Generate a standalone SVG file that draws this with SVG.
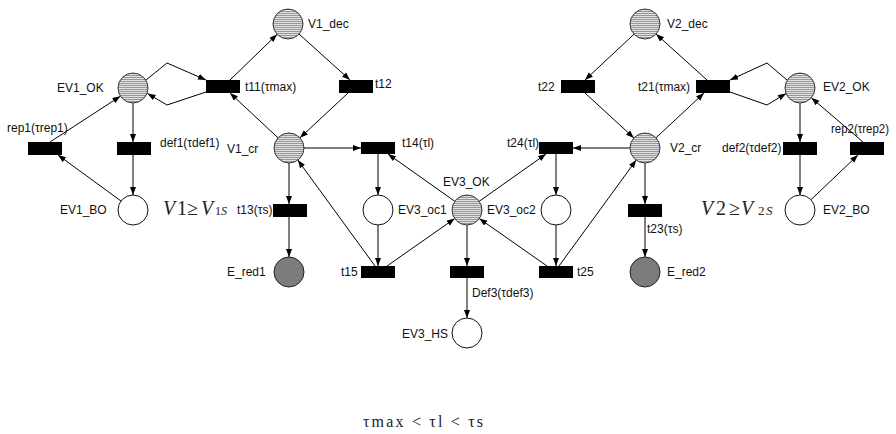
<svg xmlns="http://www.w3.org/2000/svg" width="896" height="434" viewBox="0 0 896 434">
<style>
text{font-family:"Liberation Sans",Arial,sans-serif;font-size:12px;fill:#111}
text.m{font-family:"Liberation Serif","Times New Roman",serif;fill:#222;font-size:20px}
text.b{font-size:16px}
.s{font-size:12px}
.s2{font-size:13px}
.i{font-style:italic}
.p{fill:url(#stripe);stroke:#333;stroke-width:1}
.w{fill:#fff;stroke:#111;stroke-width:1}
.r{fill:#7c7c7c;stroke:#222;stroke-width:1}
.t{fill:#000}
#edges path,#edges polyline{fill:none;stroke:#000;stroke-width:1;marker-end:url(#ah)}
</style>
<defs>
<pattern id="stripe" patternUnits="userSpaceOnUse" width="4" height="2">
<rect width="4" height="2" fill="#e2e2e2"/>
<rect y="1" width="4" height="1" fill="#969696"/>
</pattern>
<marker id="ah" markerUnits="userSpaceOnUse" markerWidth="9" markerHeight="7" refX="8" refY="3" orient="auto">
<path d="M0,0 L8,3 L0,6 z" fill="#000"/>
</marker>
</defs>
<rect width="896" height="434" fill="#fff"/>
<g id="edges">
<path d="M230,80 L277,34.5"/>
<path d="M299,34 L350,80"/>
<path d="M348,93 L300,137.8"/>
<path d="M278,137.8 L230,93"/>
<polyline points="146,80 167,63 206,80"/>
<polyline points="206,92 167,105 147.5,93.5"/>
<path d="M133,103 L133,142"/>
<path d="M133,155 L133,195"/>
<path d="M121,201 L58,155"/>
<path d="M50,142 L120.4,96.2"/>
<path d="M304,148 L361,148"/>
<path d="M289,163 L289,204"/>
<path d="M289,217 L289,257"/>
<path d="M378,154 L378,195"/>
<path d="M378,225 L378,266"/>
<path d="M375,266 L297.8,160.1"/>
<path d="M387,266 L454.7,218.6"/>
<path d="M454.8,201.3 L388,154"/>
<path d="M479.2,201.3 L546,154"/>
<path d="M556,154 L556,195"/>
<path d="M556,225 L556,266"/>
<path d="M547,266 L479.3,218.6"/>
<path d="M559,266 L636.2,160.1"/>
<path d="M630,148 L573,148"/>
<path d="M467,225 L467,266"/>
<path d="M467,278 L467,318"/>
<path d="M645,163 L645,204"/>
<path d="M645,217 L645,257"/>
<path d="M634,34.2 L585,80"/>
<path d="M585,93 L633.9,137.9"/>
<path d="M656,137.8 L704,93"/>
<path d="M707,80 L656.1,34.1"/>
<polyline points="787,80 767,63 730,80"/>
<polyline points="730,92 767,105 786,93.5"/>
<path d="M800,103 L800,142"/>
<path d="M800,155 L800,195"/>
<path d="M811,199.7 L858,155"/>
<path d="M863,142 L811.4,97.8"/>
</g>
<g id="V1_dec"><circle class="p" cx="288" cy="24" r="15"/><text x="308" y="28">V1_dec</text></g>
<g id="V2_dec"><circle class="p" cx="645" cy="24" r="15"/><text x="667" y="28">V2_dec</text></g>
<g id="EV1_OK"><circle class="p" cx="133" cy="88" r="15"/><text x="57" y="92">EV1_OK</text></g>
<g id="EV2_OK"><circle class="p" cx="800" cy="88" r="15"/><text x="823" y="91">EV2_OK</text></g>
<g id="V1_cr"><circle class="p" cx="289" cy="148" r="15"/><text x="227" y="153">V1_cr</text></g>
<g id="V2_cr"><circle class="p" cx="645" cy="148" r="15"/><text x="670" y="152">V2_cr</text></g>
<g id="EV3_OK"><circle class="p" cx="467" cy="210" r="15"/><text x="443" y="186">EV3_OK</text></g>
<g id="EV3_oc1"><circle class="w" cx="378" cy="210" r="15"/><text x="398" y="214">EV3_oc1</text></g>
<g id="EV3_oc2"><circle class="w" cx="556" cy="210" r="15"/><text x="487" y="214">EV3_oc2</text></g>
<g id="EV1_BO"><circle class="w" cx="133" cy="210" r="15"/><text x="60" y="214">EV1_BO</text></g>
<g id="EV2_BO"><circle class="w" cx="800" cy="210" r="15"/><text x="823" y="214">EV2_BO</text></g>
<g id="E_red1"><circle class="r" cx="289" cy="272" r="15"/><text x="227" y="276">E_red1</text></g>
<g id="E_red2"><circle class="r" cx="645" cy="272" r="15"/><text x="667" y="276">E_red2</text></g>
<g id="EV3_HS"><circle class="w" cx="467" cy="333" r="15"/><text x="402" y="338">EV3_HS</text></g>
<g id="t11"><rect class="t" x="206" y="80" width="34" height="13"/><text x="245" y="91">t11(τmax)</text></g>
<g id="t12"><rect class="t" x="339" y="80" width="34" height="13"/><text x="375" y="88">t12</text></g>
<g id="t22"><rect class="t" x="561" y="80" width="34" height="13"/><text x="538" y="91">t22</text></g>
<g id="t21"><rect class="t" x="696" y="80" width="34" height="13"/><text x="638" y="91">t21(τmax)</text></g>
<g id="rep1"><rect class="t" x="28" y="142" width="34" height="13"/><text x="7" y="132">rep1(τrep1)</text></g>
<g id="def1"><rect class="t" x="117" y="142" width="34" height="13"/><text x="160" y="147">def1(τdef1)</text></g>
<g id="def2"><rect class="t" x="783" y="142" width="34" height="13"/><text x="722" y="152">def2(τdef2)</text></g>
<g id="rep2"><rect class="t" x="850" y="142" width="34" height="13"/><text x="831" y="133" textLength="58" lengthAdjust="spacingAndGlyphs">rep2(τrep2)</text></g>
<g id="t14"><rect class="t" x="361" y="142" width="34" height="12"/><text x="402" y="147">t14(τl)</text></g>
<g id="t24"><rect class="t" x="539" y="142" width="34" height="12"/><text x="507" y="147">t24(τl)</text></g>
<g id="t13"><rect class="t" x="273" y="204" width="34" height="13"/><text x="237" y="214">t13(τs)</text></g>
<g id="t23"><rect class="t" x="628" y="204" width="34" height="13"/><text x="647" y="233">t23(τs)</text></g>
<g id="t15"><rect class="t" x="361" y="266" width="34" height="12"/><text x="341" y="276">t15</text></g>
<g id="Def3"><rect class="t" x="450" y="266" width="34" height="12"/><text x="472" y="297">Def3(τdef3)</text></g>
<g id="t25"><rect class="t" x="539" y="266" width="34" height="12"/><text x="577" y="276">t25</text></g>
<g id="cond1"><text class="m" y="215"><tspan x="163" class="i">V</tspan><tspan x="177">1</tspan><tspan x="187">≥</tspan><tspan x="201" class="i">V</tspan><tspan x="215" class="s">1</tspan><tspan class="s i">S</tspan></text></g>
<g id="cond2"><text class="m" y="215"><tspan x="701" class="i">V</tspan><tspan x="716">2</tspan><tspan x="729">≥</tspan><tspan x="741" class="i">V</tspan><tspan x="758" class="s2">2</tspan><tspan x="766" class="s2 i">S</tspan></text></g>
<g id="timing"><text class="m b" x="363" y="427" textLength="120" lengthAdjust="spacing">τmax &lt; τl &lt; τs</text></g>
</svg>
